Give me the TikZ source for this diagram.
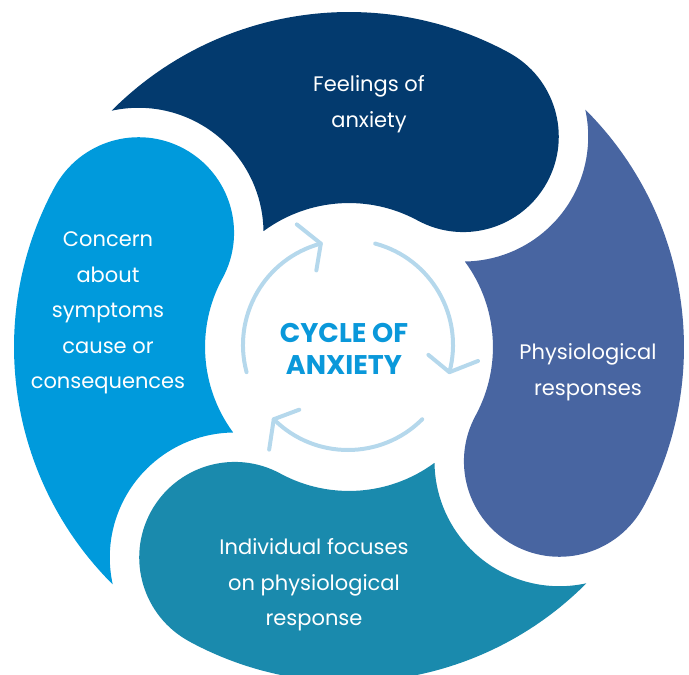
\documentclass[tikz,border=0pt]{standalone}
\usepackage{fontspec}
\setmainfont{Poppins}
\definecolor{cNavy}{HTML}{033A6E}
\definecolor{cSlate}{HTML}{4865A1}
\definecolor{cTeal}{HTML}{1A8AAD}
\definecolor{cSky}{HTML}{009ADC}
\definecolor{cArrow}{HTML}{B5D8EC}
\definecolor{cTitle}{HTML}{0A98DA}
\tikzset{
  petal/.style={draw=none},
  lbl/.style={text=white, align=center, font=\fontsize{21}{35.5}\selectfont, inner sep=0pt},
  title/.style={text=cTitle, align=center, font=\fontsize{27}{32}\selectfont\bfseries, inner sep=0pt},
  cyclearrow/.style={draw=cArrow, line width=4pt, line cap=round, line join=round}
}
\newcommand{\petalpath}[2]{%
  \fill[petal, fill=#1, rotate=#2]
    (0:335pt) arc[start angle=0, end angle=73.64, radius=335pt]
    arc[start angle=40.96, end angle=-60.76, radius=125pt]
    arc[start angle=64.92, end angle=0, radius=144pt]
    arc[start angle=180, end angle=360, radius=95.5pt] -- cycle;}
\begin{document}
\begin{tikzpicture}
\useasboundingbox (-349pt,-328pt) rectangle (340pt,347pt);
\petalpath{cNavy}{61.5}
\petalpath{cSky}{151.5}
\petalpath{cTeal}{241.5}
\petalpath{cSlate}{331.5}
\begin{scope}[shift={(-1pt,2pt)}]
\foreach \k in {0,1,2}{
  \draw[cyclearrow, rotate=-120*\k] (195:105pt) arc[start angle=195, end angle=105, radius=105pt];
  \draw[cyclearrow, rotate=-120*\k] (113:131pt) -- (105:105pt) -- (113:81pt);
}
\end{scope}
\node[title] (center) at (-5pt,-2pt) {CYCLE OF\\ANXIETY};
\node[lbl] (feel) at (20pt,243pt) {Feelings of\\anxiety};
\node[lbl] (concern) at (-241pt,34pt) {Concern\\about\\symptoms\\cause or\\consequences};
\node[lbl] (phys) at (239pt,-25pt) {Physiological\\responses};
\node[lbl] (indiv) at (-35pt,-238pt) {Individual focuses\\on physiological\\response};
\end{tikzpicture}
\end{document}
